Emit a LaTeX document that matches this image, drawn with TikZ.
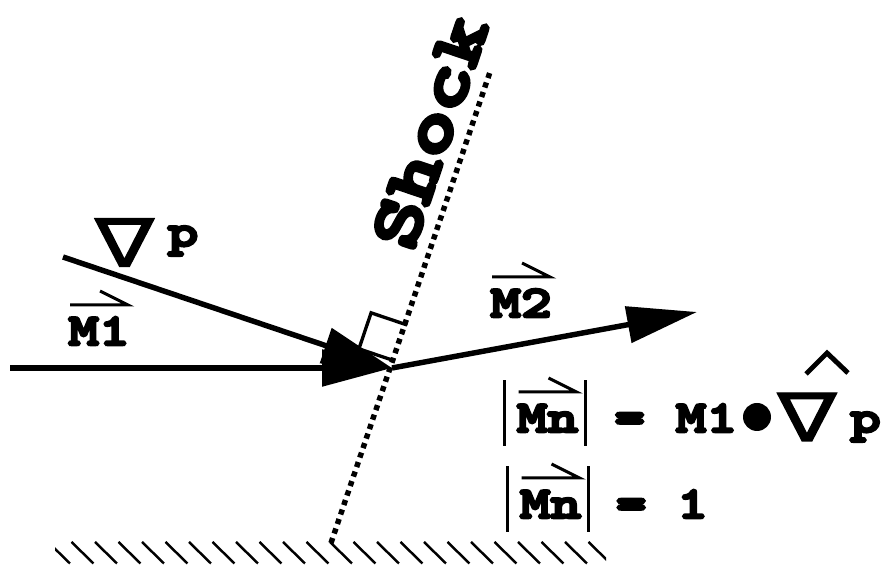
\documentclass[tikz,border=0pt]{standalone}
\usepackage{fontspec}
\usepackage{tikz}
\usetikzlibrary{arrows.meta}
\newfontfamily\lblfont{lmmonolt10-bold.otf}[FakeStretch=1.3,FakeBold=6]
\newfontfamily\nablafont{DejaVu Sans}[FakeBold=1.5]

\begin{document}
\begin{tikzpicture}[x=0.02cm, y=0.02cm,
    lbl/.style={font=\fontsize{25.6}{27}\lblfont, inner sep=0pt},
    shocklbl/.style={font=\fontsize{40}{42}\lblfont, inner sep=0pt, rotate=71.35},
    nabla/.style={font=\fontsize{38}{38}\nablafont, inner sep=0pt},
    dotnode/.style={circle, fill=black, minimum size=0.56cm, inner sep=0pt},
    vec/.style={line width=3.1pt, -{Triangle[length=1.4cm, width=0.72cm]}},
    shockline/.style={line width=3.1pt, dash pattern=on 3pt off 2.7pt},
    sq/.style={line width=1.9pt},
    harp/.style={line width=1.7pt},
    absbar/.style={line width=1.7pt},
    hatchline/.style={line width=1.4pt},
    hatline/.style={line width=2.8pt, line join=miter}
  ]
    \useasboundingbox (0,0) rectangle (887,567);

    % shock and wall
    \coordinate (shockfoot) at (331,24);
    \coordinate (shocktop) at (490,495);
    \draw[shockline] (shockfoot) -- (shocktop);
    \node[shocklbl] (shocklbl) at (430,435) {Shock};
    \begin{scope}
      \clip (55,0) rectangle (606,30);
      \foreach \i in {-1,...,23}
        \draw[hatchline] (48+23.5*\i,25) -- ++(22,-21.5);
    \end{scope}

    % right angle mark
    \draw[sq] (407.1,242) -- ++(161.35:38) -- ++(251.35:38) -- ++(341.35:38);

    % flow vectors
    \coordinate (hit) at (392,199);
    \coordinate (m1start) at (10,199);
    \coordinate (gradstart) at (63,310);
    \coordinate (m2tip) at (697,255);
    \draw[vec] (m1start) -- (hit);
    \draw[vec] (gradstart) -- (hit);
    \draw[vec] (hit) -- (m2tip);

    % labels
    \node[nabla] (nab1) at (124.5,324.5) {\scalebox{1.32}[1]{∇}};
    \node[lbl, anchor=base] (p1) at (183,321) {p};
    \node[lbl, anchor=base] (m1lbl) at (99,222) {M1};
    \node[lbl, anchor=base] (m2lbl) at (521,250) {M2};

    % normal Mach number
    \node[lbl, anchor=base] (mn1) at (547.5,135) {Mn};
    \node[lbl, anchor=base west] (eq1) at (614,135) {= M1};
    \node[dotnode] (dot) at (757,150) {};
    \node[nabla] (nab2) at (807,150) {\scalebox{1.32}[1]{∇}};
    \node[lbl, anchor=base] (p2) at (865.5,135) {p};
    \draw[hatline] (806,193) -- (827,214) -- (848,194);
    \node[lbl, anchor=base] (mn2) at (550.5,49) {Mn};
    \node[lbl, anchor=base west] (eq2) at (615.5,49) {= 1};

    \foreach \v in {m1lbl,m2lbl,mn1,mn2}
      \draw[harp] (\v.base east) ++(-30,54) -- ++(28,-14) -- ++(-58,0);
    \foreach \v in {mn1,mn2} {
      \draw[absbar] (\v.base west) ++(-12,-14) -- ++(0,66);
      \draw[absbar] (\v.base east) ++(7,-14) -- ++(0,66);
    }
\end{tikzpicture}
\end{document}
